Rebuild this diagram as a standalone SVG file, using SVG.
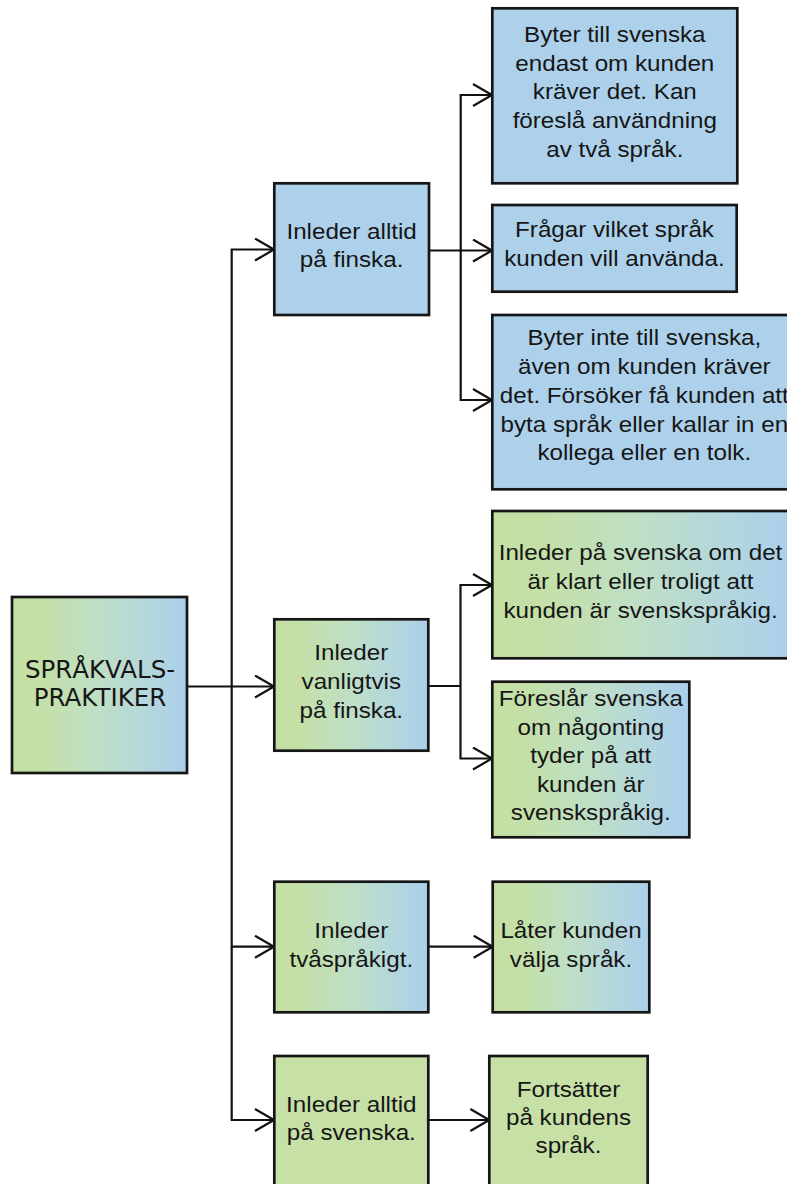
<svg xmlns="http://www.w3.org/2000/svg" width="787" height="1184" viewBox="0 0 787 1184">
  <defs>
    <linearGradient id="mix" x1="0" y1="0" x2="1" y2="0">
      <stop offset="0" stop-color="#c5e0a3"/>
      <stop offset="0.18" stop-color="#c4e0a8"/>
      <stop offset="0.5" stop-color="#bfdfc6"/>
      <stop offset="0.8" stop-color="#b3d6df"/>
      <stop offset="1" stop-color="#abcfeb"/>
    </linearGradient>
    <marker id="chev" markerWidth="24" markerHeight="26" refX="21" refY="12" orient="auto" markerUnits="userSpaceOnUse">
      <path d="M2,1 L21,12 L2,23" fill="none" stroke="#111" stroke-width="2.2"/>
    </marker>
    <style>
      .box { stroke: #161616; stroke-width: 2.7; }
      .blue { fill: #add1eb; }
      .green { fill: #c6e0a5; }
      .mix { fill: url(#mix); }
      .t { font-family: "Liberation Sans", Arial, sans-serif; font-size: 22px; fill: #161616; text-anchor: middle; }
      .root { font-family: "DejaVu Sans", sans-serif; font-size: 24.5px; fill: #161616; text-anchor: middle; }
      .line { fill: none; stroke: #111; stroke-width: 2.2; }
      .arr { marker-end: url(#chev); }
    </style>
  </defs>

  <rect width="787" height="1184" fill="#ffffff"/>

  <!-- connectors -->
  <g id="connectors">
    <path class="line arr" d="M187,686.5 H274"/>
    <path class="line arr" d="M231.7,686.5 V249.5 H274"/>
    <path class="line arr" d="M231.7,686.5 V946.7 H274"/>
    <path class="line arr" d="M231.7,946.7 V1120 H274"/>
    <path class="line arr" d="M429,250.5 H492"/>
    <path class="line arr" d="M460.7,250.5 V95 H492"/>
    <path class="line arr" d="M460.7,250.5 V400 H492"/>
    <path class="line" d="M428,686 H460.5"/>
    <path class="line arr" d="M460.5,686 V585 H492"/>
    <path class="line arr" d="M460.5,686 V758.5 H492"/>
    <path class="line arr" d="M428,946.7 H492.7"/>
    <path class="line arr" d="M428,1120 H489.3"/>
  </g>

  <!-- root -->
  <g id="root">
    <rect class="box mix" x="12" y="597" width="175" height="176"/>
    <text class="root"><tspan x="100" y="677.5">SPRÅKVALS-</tspan><tspan x="100" y="706">PRAKTIKER</tspan></text>
  </g>

  <!-- first level -->
  <g id="finska-alltid">
    <rect class="box blue" x="274.3" y="183.3" width="154.7" height="131.7"/>
    <text class="t" transform="translate(351.6,0) scale(1.1,1)"><tspan x="0" y="239.5">Inleder alltid</tspan><tspan x="0" y="267.5">på finska.</tspan></text>
  </g>
  <g id="finska-vanligtvis">
    <rect class="box mix" x="274.3" y="619.3" width="154" height="131.4"/>
    <text class="t" transform="translate(351.3,0) scale(1.1,1)"><tspan x="0" y="660">Inleder</tspan><tspan x="0" y="689">vanligtvis</tspan><tspan x="0" y="718">på finska.</tspan></text>
  </g>
  <g id="tvasprakigt">
    <rect class="box mix" x="274.3" y="881.7" width="154" height="130.6"/>
    <text class="t" transform="translate(351.3,0) scale(1.1,1)"><tspan x="0" y="938.3">Inleder</tspan><tspan x="0" y="966.7">tvåspråkigt.</tspan></text>
  </g>
  <g id="svenska-alltid">
    <rect class="box green" x="274.3" y="1056" width="154" height="140"/>
    <text class="t" transform="translate(351.3,0) scale(1.1,1)"><tspan x="0" y="1111.7">Inleder alltid</tspan><tspan x="0" y="1140">på svenska.</tspan></text>
  </g>

  <!-- second level -->
  <g id="byter-endast">
    <rect class="box blue" x="492.3" y="8.3" width="245" height="175"/>
    <text class="t" transform="translate(614.8,0) scale(1.1,1)"><tspan x="0" y="42">Byter till svenska</tspan><tspan x="0" y="70.7">endast om kunden</tspan><tspan x="0" y="99.4">kräver det. Kan</tspan><tspan x="0" y="128.1">föreslå användning</tspan><tspan x="0" y="156.8">av två språk.</tspan></text>
  </g>
  <g id="fragar">
    <rect class="box blue" x="492.3" y="205" width="244.4" height="86.7"/>
    <text class="t" transform="translate(614.5,0) scale(1.1,1)"><tspan x="0" y="237">Frågar vilket språk</tspan><tspan x="0" y="266">kunden vill använda.</tspan></text>
  </g>
  <g id="byter-inte">
    <rect class="box blue" x="492.3" y="315" width="304" height="174.3"/>
    <text class="t" transform="translate(644.3,0) scale(1.1,1)"><tspan x="0" y="345.5">Byter inte till svenska,</tspan><tspan x="0" y="374.2">även om kunden kräver</tspan><tspan x="0" y="402.9">det. Försöker få kunden att</tspan><tspan x="0" y="431.6">byta språk eller kallar in en</tspan><tspan x="0" y="460.3">kollega eller en tolk.</tspan></text>
  </g>
  <g id="inleder-svenska-om">
    <rect class="box mix" x="492.3" y="511" width="297" height="147.3"/>
    <text class="t" transform="translate(640.5,0) scale(1.1,1)"><tspan x="0" y="560">Inleder på svenska om det</tspan><tspan x="0" y="589">är klart eller troligt att</tspan><tspan x="0" y="618">kunden är svenskspråkig.</tspan></text>
  </g>
  <g id="foreslar">
    <rect class="box mix" x="492.3" y="681.7" width="197" height="155.6"/>
    <text class="t" transform="translate(590.8,0) scale(1.1,1)"><tspan x="0" y="706.5">Föreslår svenska</tspan><tspan x="0" y="735">om någonting</tspan><tspan x="0" y="763.5">tyder på att</tspan><tspan x="0" y="792">kunden är</tspan><tspan x="0" y="820.5">svenskspråkig.</tspan></text>
  </g>
  <g id="later-valja">
    <rect class="box mix" x="492.7" y="881.7" width="156.6" height="130.6"/>
    <text class="t" transform="translate(571,0) scale(1.1,1)"><tspan x="0" y="938.3">Låter kunden</tspan><tspan x="0" y="966.7">välja språk.</tspan></text>
  </g>
  <g id="fortsatter">
    <rect class="box green" x="489.3" y="1056" width="158.4" height="140"/>
    <text class="t" transform="translate(568.5,0) scale(1.1,1)"><tspan x="0" y="1096.7">Fortsätter</tspan><tspan x="0" y="1125">på kundens</tspan><tspan x="0" y="1153.3">språk.</tspan></text>
  </g>
</svg>
